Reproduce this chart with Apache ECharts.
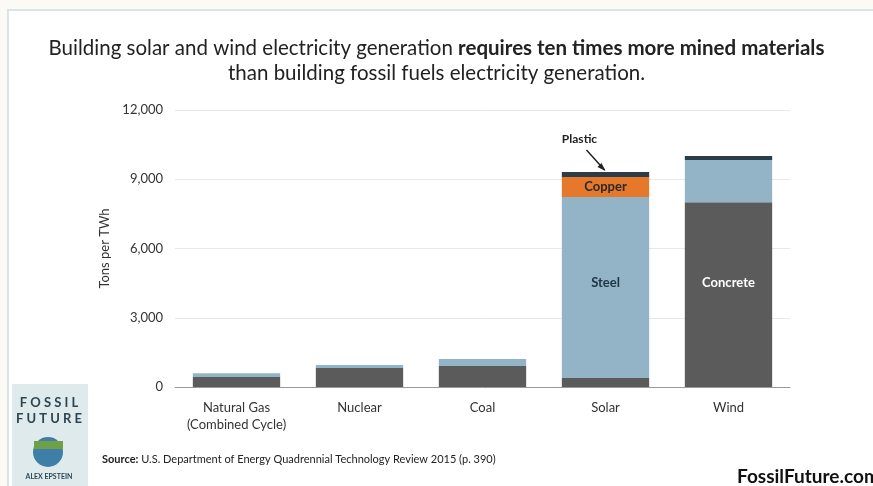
<!DOCTYPE html>
<html>
<head>
<meta charset="utf-8">
<script src="https://cdn.jsdelivr.net/npm/echarts@6/dist/echarts.min.js"></script>
<style>
  html, body { margin: 0; padding: 0; background: #fbfaf4; }
  #chart { width: 873px; height: 486px; }
</style>
</head>
<body>
<div id="chart"></div>
<script>
// data (tons per TWh)
var categories = ['Natural Gas\n(Combined Cycle)', 'Nuclear', 'Coal', 'Solar', 'Wind'];
var concrete = [430, 820, 910, 390, 8000];
var steel = [170, 130, 300, 7840, 1830];
var copper = [0, 0, 0, 870, 0];
var plastic = [0, 0, 0, 210, 180];
var yTicks = [0, 3000, 6000, 9000, 12000];

var myChart = echarts.init(document.getElementById('chart'));

var fontFam = 'Lato, "Open Sans", sans-serif';

// label only on the one bar that carries the name
function named(values, idx, text, color, dy) {
    return values.map(function (v, i) {
        if (i !== idx) return v;
        return {
            value: v,
            label: { show: true, position: 'inside', offset: [0, dy], formatter: text, color: color,
                     fontWeight: 'bold', fontSize: 13, fontFamily: fontFam }
        };
    });
}

var plasticData = plastic.map(function (v, i) {
    if (i !== 3) return v;
    return {
        value: v,
        label: { show: true, position: 'top', offset: [-26, -22], formatter: 'Plastic',
                 color: '#222', fontWeight: 'bold', fontSize: 12, fontFamily: fontFam }
    };
});

var option = {
    backgroundColor: 'transparent',
    animation: false,
    title: {
        left: 'center',
        top: 31,
        text: '{n|Building solar and wind electricity generation }{b|requires ten times more mined materials}\n{n|than building fossil fuels electricity generation.}',
        textStyle: {
            fontWeight: 'normal',
            rich: {
                n: { fontSize: 20.5, color: '#222', fontFamily: fontFam, fontWeight: 'normal', lineHeight: 25 },
                b: { fontSize: 20.5, color: '#222', fontFamily: fontFam, fontWeight: 'bold', lineHeight: 25 }
            }
        }
    },
    grid: { left: 175, right: 83, top: 110, bottom: 99 },
    xAxis: {
        type: 'category',
        data: categories,
        axisLine: { lineStyle: { color: '#999' } },
        axisTick: { show: false },
        axisLabel: { interval: 0, color: '#333', fontSize: 13, fontFamily: fontFam, lineHeight: 17, margin: 12 }
    },
    yAxis: {
        type: 'value',
        min: yTicks[0],
        max: yTicks[yTicks.length - 1],
        interval: 3000,
        name: 'Tons per TWh',
        nameLocation: 'middle',
        nameGap: 64,
        nameTextStyle: { color: '#333', fontSize: 13, fontFamily: fontFam },
        axisLine: { show: false },
        axisTick: { show: false },
        splitLine: { lineStyle: { color: '#e8e8e8' } },
        axisLabel: {
            color: '#333', fontSize: 13, fontFamily: fontFam, margin: 12,
            formatter: function (v) { return v.toLocaleString('en-US'); }
        }
    },
    series: [
        { name: 'Concrete', type: 'bar', stack: 'm', barWidth: '71%',
          itemStyle: { color: '#5b5b5b' }, data: named(concrete, 4, 'Concrete', '#fff', -12) },
        { name: 'Steel', type: 'bar', stack: 'm',
          itemStyle: { color: '#93b3c7' }, data: named(steel, 3, 'Steel', '#1f3442', -5) },
        { name: 'Copper', type: 'bar', stack: 'm',
          itemStyle: { color: '#e5782a' }, data: named(copper, 3, 'Copper', '#2a2a2a', 0) },
        { name: 'Plastic', type: 'bar', stack: 'm',
          itemStyle: { color: '#2c3d4a' }, data: plasticData }
    ],
    graphic: [
        { type: 'rect', silent: true, z: -10,
          shape: { x: 8, y: 10, width: 900, height: 500 },
          style: { fill: '#ffffff', stroke: '#d9e3e8', lineWidth: 2 } },
        // logo block
        { type: 'rect', silent: true, shape: { x: 12, y: 384, width: 76, height: 102 },
          style: { fill: '#dfeaed' } },
        { type: 'text', x: 49, y: 396, silent: true,
          style: { text: 'F O S S I L', fill: '#2b4650', font: 'bold 13px ' + fontFam, align: 'center' } },
        { type: 'text', x: 49, y: 412, silent: true,
          style: { text: 'F U T U R E', fill: '#2b4650', font: 'bold 13px ' + fontFam, align: 'center' } },
        { type: 'circle', silent: true, shape: { cx: 48, cy: 452, r: 15 },
          style: { fill: '#3d7fa6' } },
        { type: 'rect', silent: true, shape: { x: 34, y: 441, width: 29, height: 8 },
          style: { fill: '#6f9f46' } },
        { type: 'text', x: 49, y: 473, silent: true,
          style: { text: 'ALEX EPSTEIN', fill: '#2b4650', font: 'bold 7px ' + fontFam, align: 'center' } },
        // source
        { type: 'text', left: 102, top: 454, silent: true,
          style: { text: '{b|Source:} U.S. Department of Energy Quadrennial Technology Review 2015 (p. 390)',
                   fill: '#222', font: '11px ' + fontFam,
                   rich: { b: { fontWeight: 'bold', fontSize: 11, fontFamily: fontFam, fill: '#222' } } } },
        { type: 'text', x: 737, y: 467, silent: true,
          style: { text: 'FossilFuture.com', fill: '#111', font: 'bold 19px ' + fontFam } }
    ]
};

myChart.setOption(option);

// arrow from the "Plastic" label down to the top of the solar stack
var solarTop = concrete[3] + steel[3] + copper[3] + plastic[3];
var tip = myChart.convertToPixel({ gridIndex: 0 }, [categories[3], solarTop]);
myChart.setOption({
    graphic: option.graphic.concat([
        { type: 'line', silent: true,
          shape: { x1: tip[0] - 19, y1: tip[1] - 22, x2: tip[0] - 1, y2: tip[1] - 2 },
          style: { stroke: '#222', lineWidth: 1.5 } },
        { type: 'polygon', silent: true,
          shape: { points: [[tip[0], tip[1] - 1], [tip[0] - 8, tip[1] - 5], [tip[0] - 4, tip[1] - 9]] },
          style: { fill: '#222' } }
    ])
});
</script>
</body>
</html>
